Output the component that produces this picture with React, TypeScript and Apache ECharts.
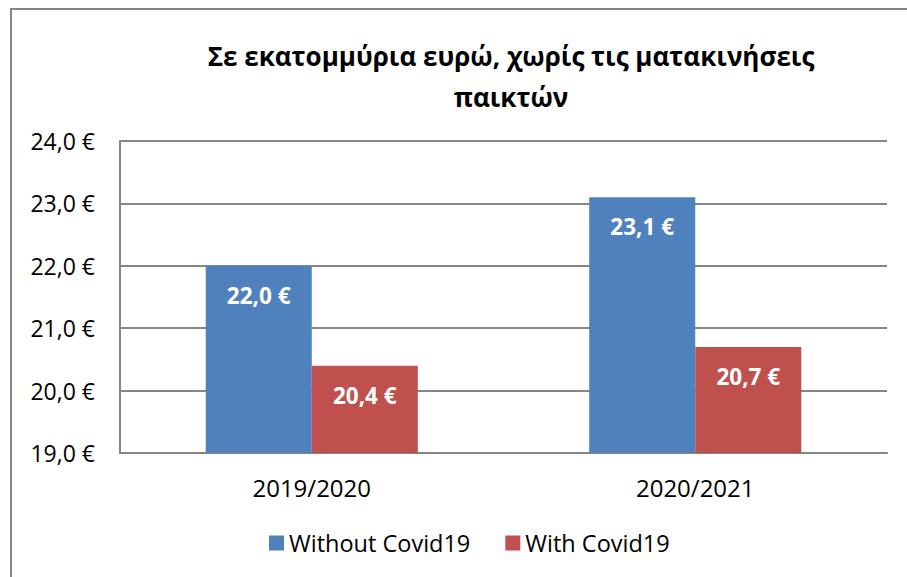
import React, { useEffect, useRef } from "react";
import * as echarts from "echarts";

const categories = ["2019/2020", "2020/2021"];
const withoutCovid = [22.0, 23.1];
const withCovid = [20.4, 20.7];
const seriesNames = ["Without Covid19", "With Covid19"];
const titleText = "Σε εκατομμύρια ευρώ, χωρίς τις ματακινήσεις\nπαικτών";

const fmt = (v: number) => v.toFixed(1).replace(".", ",") + " €";
const FONT = "'Open Sans', 'Noto Sans', sans-serif";

export default function App() {
  const ref = useRef<HTMLDivElement>(null);
  useEffect(() => {
    const chart = echarts.init(ref.current!, null, { renderer: "svg" });
    const labelStyle = {
      show: true,
      position: "insideTop",
      distance: 18,
      color: "#ffffff",
      fontWeight: "bold",
      fontSize: 22.5,
      fontFamily: FONT,
      formatter: (p: any) => fmt(p.value),
    };
    chart.setOption({
      animation: false,
      backgroundColor: "#ffffff",
      title: {
        text: titleText,
        left: 506,
        textAlign: "center",
        top: 30,
        textStyle: {
          fontFamily: FONT,
          fontWeight: "bold",
          fontSize: 26,
          lineHeight: 41,
          color: "#000000",
        },
      },
      graphic: [
        {
          type: "rect",
          shape: { x: 11, y: 9, width: 1000, height: 1000 },
          style: { fill: "none", stroke: "#868686", lineWidth: 2 },
          silent: true,
        },
      ],
      grid: { left: 120, right: 20, top: 141, bottom: 124 },
      legend: {
        data: seriesNames,
        bottom: 17,
        left: 264,
        itemWidth: 15,
        itemHeight: 15,
        itemGap: 35,
        icon: "rect",
        textStyle: { fontFamily: FONT, fontSize: 23.5, color: "#000000" },
      },
      xAxis: {
        type: "category",
        data: categories,
        axisLine: { show: true, lineStyle: { color: "#868686", width: 2 } },
        axisTick: { show: false },
        axisLabel: {
          fontFamily: FONT,
          fontSize: 24,
          color: "#000000",
          margin: 22,
        },
      },
      yAxis: {
        type: "value",
        min: 19,
        max: 24,
        interval: 1,
        axisLine: { show: true, lineStyle: { color: "#868686", width: 2 } },
        axisTick: { show: false },
        splitLine: { lineStyle: { color: "#868686", width: 2 } },
        axisLabel: {
          fontFamily: FONT,
          fontSize: 23,
          color: "#000000",
          margin: 25,
          formatter: (v: number) => fmt(v),
        },
      },
      series: [
        {
          name: seriesNames[0],
          type: "bar",
          data: withoutCovid,
          itemStyle: { color: "#4F81BD" },
          barGap: "0%",
          barCategoryGap: "44.7%",
          label: labelStyle,
        },
        {
          name: seriesNames[1],
          type: "bar",
          data: withCovid,
          itemStyle: { color: "#C0504D" },
          barGap: "0%",
          barCategoryGap: "44.7%",
          label: labelStyle,
        },
      ],
    });
    return () => chart.dispose();
  }, []);
  return (
    <div
      ref={ref}
      style={{ position: "fixed", left: 0, top: 0, width: 907, height: 577 }}
    />
  );
}
